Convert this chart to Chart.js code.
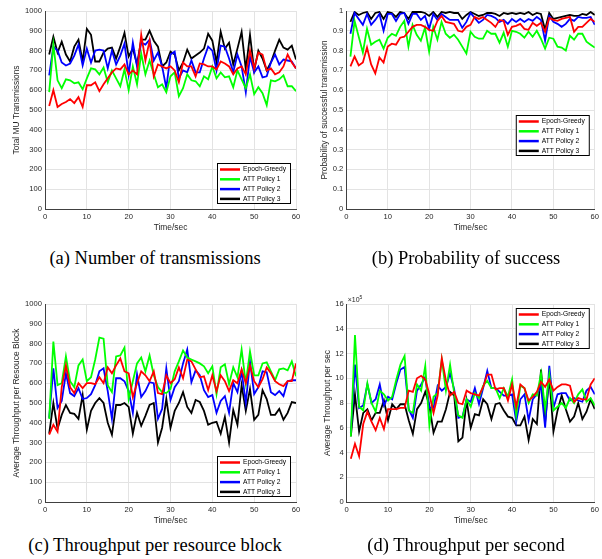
<!DOCTYPE html>
<html>
<head>
<meta charset="utf-8">
<script src="https://cdn.jsdelivr.net/npm/chart.js@4.4.1/dist/chart.umd.min.js"></script>
<style>
  body { margin: 0; background: #fff; width: 602px; height: 559px; position: relative; overflow: hidden; }
  canvas { position: absolute; }
  .cap { position: absolute; font-family: "Liberation Serif", "Times New Roman", serif; font-size: 18.5px;
         color: #000; white-space: nowrap; transform: translateX(-50%); line-height: 1; }
</style>
</head>
<body>
<canvas id="ca" width="305" height="240" style="left:0;top:0"></canvas>
<canvas id="cb" width="302" height="240" style="left:300px;top:0"></canvas>
<canvas id="cc" width="305" height="253" style="left:0;top:280px"></canvas>
<canvas id="cd" width="302" height="253" style="left:300px;top:280px"></canvas>
<div class="cap" style="left:155px;top:249px">(a) Number of transmissions</div>
<div class="cap" style="left:466px;top:249px">(b) Probability of success</div>
<div class="cap" style="left:155px;top:536px">(c) Throughput per resource block</div>
<div class="cap" style="left:466px;top:536px">(d) Throughput per second</div>
<script>
// time axis, one sample per second
const time = Array.from({length: 60}, (_, i) => i + 1);
const seriesNames = ['Epoch-Greedy', 'ATT Policy 1', 'ATT Policy 2', 'ATT Policy 3'];
const seriesColors = ['#ff0000', '#00ff00', '#0000ff', '#000000'];
const xTicks = [0, 10, 20, 30, 40, 50, 60];

// (a) total MU transmissions
const transGreedy = [520,600,515,530,540,555,535,565,515,625, 625,640,595,630,660,690,710,705,730,680,
  700,680,880,750,850,670,730,720,710,720, 700,640,740,720,720,670,735,730,720,720,
  705,745,735,720,680,710,720,680,800,710, 790,780,700,710,680,690,720,780,740,710];
const transPolicy1 = [590,830,650,610,655,650,635,640,605,660, 710,705,680,715,640,700,660,620,705,600,
  720,630,785,680,750,680,615,630,590,670, 690,570,610,680,650,645,620,670,655,720,
  660,690,665,670,615,700,655,610,680,580, 615,585,525,650,645,655,675,620,620,595];
const transPolicy2 = [675,820,800,740,725,735,775,830,725,810, 740,800,805,800,710,800,730,775,835,680,
  840,720,840,830,855,750,790,720,610,780, 795,660,700,690,750,690,690,760,820,800,
  700,825,820,760,690,780,720,590,770,690, 720,665,670,740,780,730,755,750,745,710];
const transPolicy3 = [780,870,790,845,780,745,820,855,745,910, 880,745,745,790,810,815,760,820,890,770,
  810,730,855,855,900,850,820,720,740,795, 780,700,740,805,760,775,790,810,885,850,
  740,895,810,840,730,810,895,705,880,700, 800,760,700,740,800,855,815,805,825,755];

// (b) probability of successful transmission
const succGreedy = [.72,.77,.725,.74,.815,.73,.685,.765,.74,.82, .835,.83,.865,.87,.895,.92,.93,.93,.92,.905,
  .9,.95,.975,.945,.94,.935,.9,.895,.92,.93, .97,.96,.97,.955,.94,.92,.955,.95,.88,.92,
  .925,.935,.91,.905,.94,.925,.94,.895,.965,.955, .95,.96,.965,.97,.895,.92,.92,.94,.96,.945];
const succPolicy1 = [.77,.95,.87,.79,.91,.83,.845,.855,.81,.865, .885,.875,.92,.95,.82,.93,.88,.85,.915,.795,
  .92,.855,.945,.885,.865,.88,.855,.82,.785,.895, .87,.86,.86,.9,.885,.885,.84,.89,.82,.9,
  .895,.885,.865,.895,.87,.9,.86,.81,.865,.86, .82,.815,.8,.875,.855,.885,.885,.845,.83,.815];
const succPolicy2 = [.885,.99,.96,.93,.985,.93,.955,.985,.9,.985, .985,.95,.985,.99,.935,.985,.985,.955,.975,.91,
  .985,.955,.985,.97,.955,.955,.955,.915,.945,.99, .965,.94,.955,.98,.975,.965,.945,.955,.935,.96,
  .945,.96,.945,.96,.95,.97,.955,.85,.975,.945, .935,.92,.935,.96,.95,.97,.965,.965,.97,.93];
const succPolicy3 = [.945,.995,.98,.99,.995,.96,.99,.995,.96,.995, .99,.97,.995,.99,.96,.995,.995,.995,.99,.975,
  .995,.97,.995,.99,.995,.99,.99,.96,.98,.995, .985,.975,.98,.99,.99,.985,.975,.99,.985,.99,
  .985,.99,.985,.995,.98,.99,.985,.905,.99,.96, .965,.97,.975,.98,.975,.975,.985,.98,.995,.98];

// (c) average throughput per resource block
const rbGreedy = [340,390,355,580,690,580,550,600,575,600, 600,595,630,600,680,650,690,725,660,650,
  530,600,660,640,610,660,550,545,640,600, 620,680,625,720,710,670,630,635,565,640,
  560,640,610,560,615,600,670,600,690,610, 580,620,680,650,610,595,585,610,610,700];
const rbPolicy1 = [420,810,590,600,735,610,580,690,720,610, 630,720,830,825,590,555,735,740,780,520,
  610,700,730,660,740,640,580,555,550,570, 660,710,765,730,720,710,700,685,650,685,
  545,680,695,595,680,630,770,600,760,640, 640,700,705,660,615,670,675,665,710,635];
const rbPolicy2 = [425,675,475,510,650,550,535,575,520,525, 545,590,660,675,560,420,625,625,610,560,
  450,645,530,560,605,600,420,470,675,515, 580,610,700,770,605,665,640,565,530,540,
  450,510,535,450,600,555,660,500,710,545, 580,660,655,555,540,560,535,610,615,615];
const rbPolicy3 = [345,500,370,440,490,450,445,420,540,365, 460,500,525,500,400,340,490,490,500,480,
  345,450,385,435,490,500,300,375,520,375, 460,500,555,480,450,515,505,460,390,400,
  405,345,430,300,465,390,590,460,570,415, 440,565,520,440,440,470,415,450,505,500];

// (d) average throughput per second, in units of 1e5
const secGreedy = [3.5,4.7,3.7,6.3,7.3,6.5,5.8,6.8,5.9,7.5, 7.5,7.5,7.6,7.6,9.0,8.9,10.0,10.2,9.9,8.7,
  7.2,8.6,11.6,9.8,8.6,8.9,8.0,7.9,9.0,8.8, 8.7,8.6,9.3,10.3,10.3,9.1,9.2,9.2,8.2,9.5,
  7.7,9.5,9.2,8.2,8.5,8.9,9.7,9.3,9.9,9.0, 9.3,9.5,9.5,9.4,8.1,8.4,8.3,8.3,9.5,10.0];
const secPolicy1 = [5.3,13.5,7.7,7.4,9.6,8.0,7.3,9.0,8.7,8.2, 8.5,9.9,11.1,11.8,7.4,7.2,9.5,9.0,11.0,6.2,
  8.5,8.8,11.5,9.0,11.1,8.8,7.0,6.8,8.3,7.7, 8.8,8.4,9.4,9.8,9.2,9.2,8.4,9.2,8.5,9.9,
  7.0,9.4,9.2,8.0,8.7,8.6,10.4,7.5,10.3,7.4, 7.7,8.0,7.6,8.4,8.0,8.7,9.1,8.1,8.4,7.8];
const secPolicy2 = [5.6,11.1,7.6,7.8,9.5,8.0,8.3,9.5,7.8,8.5, 8.3,9.6,10.7,10.9,7.5,6.8,9.0,9.5,10.1,7.6,
  7.6,9.4,9.0,9.3,10.4,9.1,6.8,6.9,8.3,8.1, 9.2,7.9,9.2,10.6,9.2,9.2,8.9,8.6,8.6,8.7,
  6.5,8.3,8.7,6.6,8.3,8.7,9.3,6.0,11.0,7.6, 8.7,8.8,8.8,8.2,8.4,8.2,8.1,9.0,9.3,8.7];
const secPolicy3 = [5.3,8.7,5.7,7.2,7.5,6.6,7.2,7.2,8.2,6.6, 7.9,7.5,7.9,7.9,6.6,5.5,7.5,8.0,8.9,7.8,
  5.6,6.5,6.5,7.5,8.9,8.6,4.9,5.2,8.2,6.0, 7.1,7.0,8.3,7.9,6.7,7.9,8.0,7.4,6.9,6.8,
  6.2,6.2,6.9,5.0,6.7,6.3,10.7,6.5,10.1,5.7, 7.4,8.6,7.5,6.5,6.9,8.0,6.7,7.3,8.3,7.5];

const FONT = '"Liberation Sans", Arial, Helvetica, sans-serif';

// legend drawn as a framed box inside the plot, like the matlab one
const boxLegend = {
  id: 'boxLegend',
  afterDatasetsDraw(chart, args, opts) {
    const ctx = chart.ctx, area = chart.chartArea;
    const w = 74, h = 41;
    const x = area.right - opts.right - w;
    const y = opts.top != null ? area.top + opts.top : area.bottom - opts.bottom - h;
    ctx.save();
    ctx.fillStyle = '#fff';
    ctx.fillRect(x, y, w, h);
    ctx.strokeStyle = '#000';
    ctx.lineWidth = 1;
    ctx.strokeRect(x + 0.5, y + 0.5, w - 1, h - 1);
    ctx.font = '6.7px ' + FONT;
    ctx.textBaseline = 'middle';
    chart.data.datasets.forEach((ds, i) => {
      const cy = y + 6.5 + i * 9.8;
      ctx.strokeStyle = ds.borderColor;
      ctx.lineWidth = 2.5;
      ctx.beginPath();
      ctx.moveTo(x + 3, cy);
      ctx.lineTo(x + 23, cy);
      ctx.stroke();
      ctx.fillStyle = '#000';
      ctx.fillText(ds.label, x + 26, cy);
    });
    ctx.restore();
  }
};

// the x10^5 multiplier above the y axis
const expLabel = {
  id: 'expLabel',
  afterDraw(chart, args, opts) {
    if (!opts.text) return;
    const ctx = chart.ctx, area = chart.chartArea;
    ctx.save();
    ctx.fillStyle = '#262626';
    ctx.textBaseline = 'alphabetic';
    ctx.font = '7px ' + FONT;
    ctx.fillText('\u00d710', area.left + 1, area.top - 2);
    const w = ctx.measureText('\u00d710').width;
    ctx.font = '5px ' + FONT;
    ctx.fillText(opts.text, area.left + 1 + w, area.top - 5);
    ctx.restore();
  }
};

function makeChart(id, series, o) {
  const datasets = series.map((vals, i) => ({
    label: seriesNames[i],
    data: vals.map((v, j) => ({x: time[j], y: v})),
    borderColor: seriesColors[i],
    borderWidth: 1.8,
    pointRadius: 0,
    tension: 0,
    fill: false
  }));
  const tickFont = {family: FONT, size: 7.6};
  const titleFont = {family: FONT, size: 8.4};
  return new Chart(document.getElementById(id), {
    type: 'line',
    data: {datasets: datasets},
    plugins: [boxLegend, expLabel],
    options: {
      responsive: false,
      animation: false,
      layout: {padding: o.padding},
      plugins: {
        legend: {display: false},
        tooltip: {enabled: false},
        boxLegend: o.legend,
        expLabel: {text: o.exp}
      },
      scales: {
        x: {
          type: 'linear',
          min: 0, max: 60,
          afterBuildTicks: s => { s.ticks = xTicks.map(v => ({value: v})); },
          afterFit: s => { s.height = 31; },
          ticks: {font: tickFont, color: '#262626', padding: 3, maxRotation: 0},
          grid: {color: '#e3e3e3', lineWidth: 1, drawTicks: false},
          border: {color: '#404040', width: 1},
          title: {display: true, text: 'Time/sec', font: titleFont, color: '#262626', padding: {top: 0, bottom: 7}}
        },
        y: {
          min: o.yMin, max: o.yMax,
          afterBuildTicks: s => { s.ticks = o.yTicks.map(v => ({value: v})); },
          afterFit: s => { s.width = o.yWidth; },
          ticks: {font: tickFont, color: '#262626', padding: 3, callback: v => String(+v.toFixed(3))},
          grid: {color: '#e3e3e3', lineWidth: 1, drawTicks: false},
          border: {color: '#404040', width: 1},
          title: {display: true, text: o.yTitle, font: titleFont, color: '#262626', padding: 0}
        }
      }
    }
  });
}

const ticks1000 = [0, 100, 200, 300, 400, 500, 600, 700, 800, 900, 1000];
const ticksProb = [0, 0.1, 0.2, 0.3, 0.4, 0.5, 0.6, 0.7, 0.8, 0.9, 1];
const ticks16 = [0, 2, 4, 6, 8, 10, 12, 14, 16];

makeChart('ca', [transGreedy, transPolicy1, transPolicy2, transPolicy3], {
  yMin: 0, yMax: 1000, yTicks: ticks1000, yTitle: 'Total MU Transmissions',
  yWidth: 33, padding: {left: 12, right: 9, top: 11, bottom: 0},
  legend: {right: 5, bottom: 5}
});
makeChart('cb', [succGreedy, succPolicy1, succPolicy2, succPolicy3], {
  yMin: 0, yMax: 1, yTicks: ticksProb, yTitle: 'Probability of successful transmission',
  yWidth: 26.3, padding: {left: 20, right: 5, top: 11, bottom: 0},
  legend: {right: 5, top: 104}
});
makeChart('cc', [rbGreedy, rbPolicy1, rbPolicy2, rbPolicy3], {
  yMin: 0, yMax: 1000, yTicks: ticks1000, yTitle: 'Average Throughput per Resouce Block',
  yWidth: 33, padding: {left: 12, right: 9, top: 24, bottom: 0},
  legend: {right: 5, bottom: 5}
});
makeChart('cd', [secGreedy, secPolicy1, secPolicy2, secPolicy3], {
  yMin: 0, yMax: 16, yTicks: ticks16, yTitle: 'Average Throughput per sec',
  yWidth: 23.7, padding: {left: 23, right: 5, top: 24, bottom: 0},
  legend: {right: 5, top: 4}, exp: '5'
});
</script>
</body>
</html>
